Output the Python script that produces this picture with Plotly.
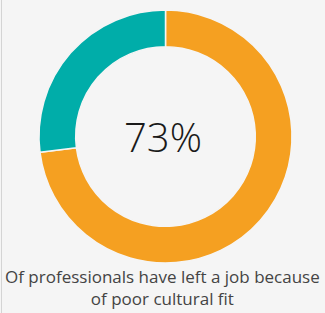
import plotly.graph_objects as go

labels = ["Left a job due to poor cultural fit", "Other"]
values = [73, 27]
colors = ["#F5A021", "#00ADA9"]
center_text = "73%"
caption = "Of professionals have left a job because<br>of poor cultural fit"

W, H = 325, 313
cx, cy, r = 165.5, 136.5, 126.5

fig = go.Figure(go.Pie(
    labels=labels, values=values, hole=0.71, sort=False,
    direction="clockwise", rotation=0,
    marker=dict(colors=colors, line=dict(color="#f5f5f5", width=1.5)),
    textinfo="none", hoverinfo="label+percent",
    domain=dict(x=[(cx - r) / W, (cx + r) / W], y=[(H - cy - r) / H, (H - cy + r) / H]),
))

fig.add_annotation(text=center_text, x=163 / W, y=(H - 136) / H, xref="paper", yref="paper",
                   xanchor="center", yanchor="middle",
                   showarrow=False, font=dict(family="Open Sans", size=40, color="#1a1a1a", weight=300))
fig.add_annotation(text=caption, x=163 / W, y=(H - 287.5) / H, xref="paper", yref="paper",
                   xanchor="center", yanchor="middle",
                   showarrow=False, font=dict(family="Open Sans", size=17, color="#444444"))

fig.add_shape(type="line", xref="paper", yref="paper", x0=1.5 / W, x1=1.5 / W, y0=0, y1=1,
              line=dict(color="#d4d4d4", width=1))

fig.update_layout(width=W, height=H, margin=dict(l=0, r=0, t=0, b=0),
                  paper_bgcolor="#f5f5f5", plot_bgcolor="#f5f5f5", showlegend=False)
fig.write_html("out.html", config={"displayModeBar": False})
